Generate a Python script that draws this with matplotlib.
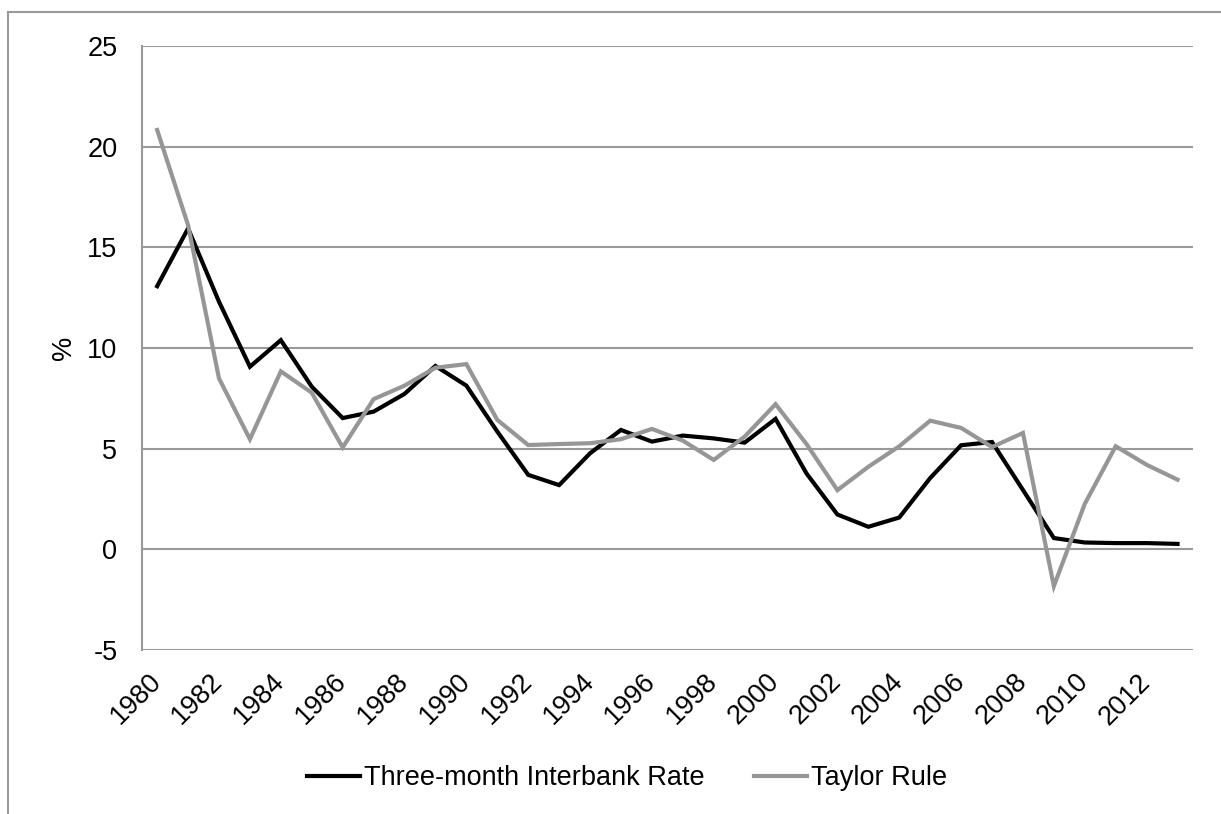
import numpy as np
import matplotlib
matplotlib.use("Agg")
import matplotlib.pyplot as plt
from matplotlib.lines import Line2D

plt.rcParams['font.family'] = ['Liberation Sans', 'DejaVu Sans']

# data
years = list(range(1980, 2014))
interbank = [13.07, 15.94, 12.30, 9.07, 10.39, 8.08, 6.52, 6.84, 7.72, 9.11,
             8.13, 5.85, 3.70, 3.19, 4.77, 5.93, 5.35, 5.65, 5.51, 5.30,
             6.48, 3.77, 1.73, 1.12, 1.58, 3.54, 5.17, 5.33, 2.95, 0.56,
             0.34, 0.31, 0.31, 0.27]
taylor = [20.83, 16.10, 8.49, 5.47, 8.84, 7.78, 5.06, 7.46, 8.13, 9.02,
          9.20, 6.43, 5.18, 5.23, 5.27, 5.47, 5.98, 5.40, 4.44, 5.60,
          7.21, 5.23, 2.94, 4.10, 5.12, 6.39, 6.03, 5.08, 5.78, -1.83,
          2.26, 5.12, 4.20, 3.46]
yticks = [-5, 0, 5, 10, 15, 20, 25]

W, H = 1221, 814
fs = 19.5
fig = plt.figure(figsize=(W / 100, H / 100), dpi=100)
ax = fig.add_axes([141.7 / W, 1 - 650 / H, (1193 - 141.7) / W, (650 - 46) / H])

grid_col = '#999999'
black = '#000000'
grey = '#969696'

x = np.arange(len(years))
ax.plot(x, interbank, color=black, lw=3.0, label='Three-month Interbank Rate',
        solid_joinstyle='miter', zorder=3)
ax.plot(x, taylor, color=grey, lw=3.0, label='Taylor Rule',
        solid_joinstyle='miter', zorder=4)

ax.set_xlim(-0.5, len(years) - 0.5)
ax.set_ylim(-5, 25)
ax.set_yticks(yticks)
ax.set_yticklabels([str(v) for v in yticks])
ax.yaxis.grid(True, color=grid_col, lw=1.5)
ax.set_axisbelow(True)

ax.set_xticks(x[::2])
ax.set_xticklabels([str(y) for y in years[::2]], rotation=45, ha='right',
                   va='center', rotation_mode='anchor')

for s in ['top', 'right', 'bottom']:
    ax.spines[s].set_visible(False)
ax.spines['left'].set_color(grid_col)
ax.spines['left'].set_linewidth(1.5)
ax.tick_params(axis='both', length=0, labelsize=fs)
ax.tick_params(axis='y', pad=17.5)
ax.tick_params(axis='x', pad=20)

ax.set_ylabel('%', fontsize=fs)
ax.yaxis.set_label_coords(-0.062, 0.5)

fig.legend(loc='center', bbox_to_anchor=(627 / W, 1 - 778 / H), ncol=2,
           frameon=False, fontsize=fs, handlelength=1.95, handletextpad=0.15,
           columnspacing=1.85)

# chart area border (cut at right and bottom)
fig.add_artist(Line2D([8 / W, 1], [1 - 12 / H, 1 - 12 / H], color=grid_col, lw=1.5))
fig.add_artist(Line2D([8 / W, 8 / W], [0, 1 - 12 / H], color=grid_col, lw=1.5))

fig.savefig('out.png', dpi=100)
